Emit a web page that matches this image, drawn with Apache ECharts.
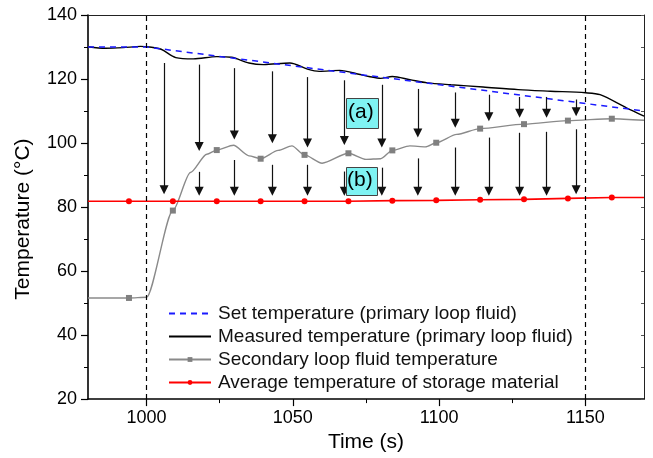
<!DOCTYPE html>
<html>
<head>
<meta charset="utf-8">
<script src="https://cdn.jsdelivr.net/npm/echarts@6/dist/echarts.min.js"></script>
<style>
  html, body { margin: 0; padding: 0; background: #fff; }
  #chart { width: 653px; height: 458px; }
</style>
</head>
<body>
<div id="chart"></div>
<script>
// set point of the primary loop fluid
const setTime = [980, 1000, 1170];
const setTemp = [130, 130, 110];

// measured primary loop fluid
const measTime = [980, 986, 992, 998, 1001, 1005, 1010, 1016, 1024, 1029, 1035, 1040, 1049, 1055, 1059, 1066, 1073, 1076, 1080, 1084, 1090, 1096, 1104, 1115, 1127, 1138, 1150, 1155, 1164, 1170];
const measTemp = [130.1, 129.6, 129.8, 130.2, 130, 129.3, 126.7, 126.3, 127, 126.8, 125, 124.5, 125, 123.1, 122.4, 122.7, 121.4, 120.8, 120.2, 120.8, 119.8, 118.8, 118.2, 117.5, 116.7, 116.2, 115.7, 115.1, 111, 108.4];

// secondary loop fluid
const secTime = [980, 994, 1000, 1009, 1015, 1020.6, 1024, 1029.7, 1035, 1039, 1045, 1049.7, 1054, 1060, 1069, 1075, 1080, 1084, 1090, 1095.3, 1099, 1106, 1114, 1129, 1144, 1159, 1170];
const secTemp = [51.6, 51.6, 51.8, 78.9, 90.8, 96.5, 97.8, 99.3, 96, 95.1, 97.7, 99.1, 96.3, 93.7, 96.8, 94.9, 95.1, 97.7, 99.1, 98.8, 100.1, 102.7, 104.5, 105.9, 107.0, 107.6, 107.1];

// storage material average
const redTime = [980, 994, 1009, 1024, 1039, 1054, 1069, 1084, 1099, 1114, 1129, 1144, 1159, 1170];
const redTemp = [81.8, 81.8, 81.8, 81.8, 81.8, 81.8, 81.8, 82.0, 82.1, 82.3, 82.4, 82.7, 83.0, 83.0];

// times where the markers sit
const markTimes = [994, 1009, 1024, 1039, 1054, 1069, 1084, 1099, 1114, 1129, 1144, 1159];

// heat flow arrows (a) and (b)
const arrowTime = [1006, 1018, 1030, 1043, 1055, 1067.6, 1080.4, 1092.7, 1105.5, 1117, 1127.5, 1136.7, 1146.8];
const arrowAFrom = [125, 124.5, 123.4, 122.4, 120.6, 119.6, 118.2, 116.9, 115.8, 115.1, 114.4, 114.4, 113.6];
const arrowATo = [84, 97.5, 101.1, 99.9, 98.6, 99.4, 98.6, 101.7, 104.8, 106.8, 107.9, 107.9, 108.4];
const arrowBFrom = [null, 91, 94.7, 93.2, 93.2, 91.1, 92.3, 95.2, 98.6, 101.7, 103.2, 103.5, 104.3];
const arrowBTo = [null, 83.5, 83.5, 83.5, 83.5, 83.5, 83.5, 83.5, 83.5, 83.5, 83.5, 83.5, 84];

const xMajor = [1000, 1050, 1100, 1150];
const xMinor = [1025, 1075, 1125];
const boundaries = [1000, 1150];

const FONT = 'Liberation Sans, Arial, sans-serif';
const HEAD = 1.4; // triangle is centred on the end point, pull it back so the tip lands there

function pairs(xs, ys, marks) {
    return xs.map(function (x, i) {
        let item = {value: [x, ys[i]]};
        if (marks && marks.indexOf(x) < 0) item.symbol = 'none';
        return item;
    });
}

let arrowLines = [];
for (let i = 0; i < arrowTime.length; i++) {
    arrowLines.push([{coord: [arrowTime[i], arrowAFrom[i]]}, {coord: [arrowTime[i], arrowATo[i] + HEAD]}]);
    if (arrowBFrom[i] !== null)
        arrowLines.push([{coord: [arrowTime[i], arrowBFrom[i]]}, {coord: [arrowTime[i], arrowBTo[i] + HEAD]}]);
}

let chart = echarts.init(document.getElementById('chart'));

let option = {
    animation: false,
    textStyle: {fontFamily: FONT, color: '#000'},
    grid: {left: 88, top: 15, right: 9, bottom: 57},
    legend: {
        orient: 'vertical',
        left: 163,
        top: 299,
        itemWidth: 42,
        itemHeight: 6,
        itemGap: 4,
        textStyle: {fontSize: 19, fontFamily: FONT, color: '#111', padding: [0, 0, 0, 2]},
        data: [
            {name: 'Set temperature (primary loop fluid)', itemStyle: {opacity: 0}},
            {name: 'Measured temperature (primary loop fluid)', itemStyle: {opacity: 0}},
            'Secondary loop fluid temperature',
            'Average temperature of storage material'
        ]
    },
    xAxis: [{
        type: 'value', min: 980, max: 1170, interval: 10, position: 'bottom',
        name: 'Time (s)', nameLocation: 'middle', nameGap: 32,
        nameTextStyle: {fontSize: 21, fontFamily: FONT, color: '#000'},
        axisLine: {lineStyle: {color: '#000', width: 1.6}},
        axisTick: {customValues: xMajor, length: 7, lineStyle: {color: '#000', width: 1.2}},
        axisLabel: {customValues: xMajor, fontSize: 18, margin: 10, color: '#000', fontFamily: FONT,
            formatter: function (v) { return String(v); }},
        splitLine: {show: false}
    }, {
        type: 'value', min: 980, max: 1170, interval: 10, position: 'bottom',
        axisLine: {show: false},
        axisTick: {customValues: xMinor, length: 4, lineStyle: {color: '#000', width: 1}},
        axisLabel: {show: false},
        splitLine: {show: false}
    }, {
        type: 'value', min: 980, max: 1170, interval: 10, position: 'top',
        axisLine: {lineStyle: {color: '#222', width: 1}},
        axisTick: {show: false},
        axisLabel: {show: false},
        splitLine: {show: false}
    }],
    yAxis: [{
        type: 'value', min: 20, max: 140, interval: 20, position: 'left',
        name: 'Temperature (°C)', nameLocation: 'middle', nameGap: 54,
        nameTextStyle: {fontSize: 21, fontFamily: FONT, color: '#000', padding: [0, 24, 0, 0]},
        axisLine: {show: true, lineStyle: {color: '#000', width: 1.6}},
        axisTick: {length: 7, lineStyle: {color: '#000', width: 1.2}},
        minorTick: {show: true, splitNumber: 2, length: 4, lineStyle: {color: '#000', width: 1}},
        axisLabel: {fontSize: 18, margin: 11, color: '#000', fontFamily: FONT},
        splitLine: {show: false}
    }, {
        type: 'value', min: 20, max: 140, interval: 10, position: 'right',
        axisLine: {show: true, lineStyle: {color: '#222', width: 1}},
        axisTick: {inside: true, length: 3, lineStyle: {color: '#555', width: 1}},
        axisLabel: {show: false},
        splitLine: {show: false}
    }],
    graphic: [
        {type: 'rect', left: 346, top: 98, shape: {width: 32, height: 30},
            style: {fill: '#7ff3f3', stroke: '#444', lineWidth: 1}, z: 10},
        {type: 'text', left: 348, top: 102, style: {text: '(a)', font: '21px ' + FONT, fill: '#000'}, z: 11},
        {type: 'rect', left: 346, top: 167, shape: {width: 31, height: 28},
            style: {fill: '#7ff3f3', stroke: '#444', lineWidth: 1}, z: 10},
        {type: 'text', left: 347, top: 170, style: {text: '(b)', font: '21px ' + FONT, fill: '#000'}, z: 11}
    ],
    series: [{
        name: 'Set temperature (primary loop fluid)',
        type: 'line', z: 4,
        data: pairs(setTime, setTemp),
        symbol: 'none',
        lineStyle: {color: '#1a1aff', width: 1.5, type: [6, 5]},
        itemStyle: {color: '#1a1aff'}
    }, {
        name: 'Measured temperature (primary loop fluid)',
        type: 'line', z: 3,
        data: pairs(measTime, measTemp),
        symbol: 'none', smooth: 0.3,
        lineStyle: {color: '#000', width: 1.4},
        itemStyle: {color: '#000'}
    }, {
        name: 'Secondary loop fluid temperature',
        type: 'line', z: 2,
        data: pairs(secTime, secTemp, markTimes),
        symbol: 'rect', symbolSize: 6, showAllSymbol: true,
        smooth: 0.25, smoothMonotone: 'x',
        lineStyle: {color: '#8a8a8a', width: 1.4},
        itemStyle: {color: '#808080'}
    }, {
        name: 'Average temperature of storage material',
        type: 'line', z: 2,
        data: pairs(redTime, redTemp, markTimes),
        symbol: 'circle', symbolSize: 6, showAllSymbol: true,
        lineStyle: {color: '#ff0000', width: 1.6},
        itemStyle: {color: '#ff0000'}
    }, {
        name: 'guides',
        type: 'line', data: [], silent: true,
        markLine: {
            silent: true, animation: false,
            symbol: ['none', 'none'],
            label: {show: false},
            lineStyle: {color: '#000', width: 1.2, type: [5, 4]},
            data: boundaries.map(function (t) { return {xAxis: t}; })
        }
    }, {
        name: 'arrows',
        type: 'line', data: [], silent: true,
        markLine: {
            silent: true, animation: false,
            symbol: ['none', 'triangle'], symbolSize: 9,
            label: {show: false},
            emphasis: {disabled: true},
            lineStyle: {color: '#111', width: 1.2, type: 'solid'},
            data: arrowLines
        }
    }]
};

chart.setOption(option);
</script>
</body>
</html>
